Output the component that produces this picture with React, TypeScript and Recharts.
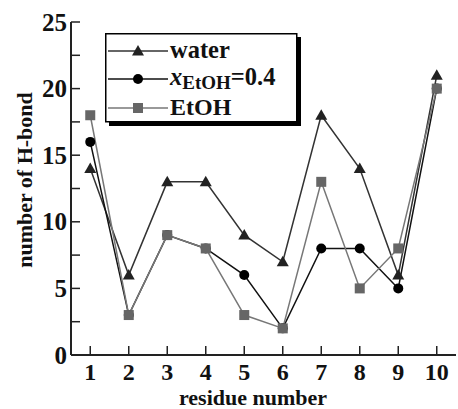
import React from 'react';
import { LineChart, Line, XAxis, YAxis, Legend } from 'recharts';

const residues = [1, 2, 3, 4, 5, 6, 7, 8, 9, 10];
const water = [14, 6, 13, 13, 9, 7, 18, 14, 6, 21];
const mixed = [16, 3, 9, 8, 6, 2, 8, 8, 5, 20];
const ethanol = [18, 3, 9, 8, 3, 2, 13, 5, 8, 20];
const yTicks = [0, 2.5, 5, 7.5, 10, 12.5, 15, 17.5, 20, 22.5, 25];

const data = residues.map((r, i) => ({
  residue: r,
  water: water[i],
  mixed: mixed[i],
  ethanol: ethanol[i],
}));

const FONT = "'Liberation Serif', 'DejaVu Serif', serif";
const AXIS = '#222';
const PLOT_LEFT = 71;
const PLOT_RIGHT = 456;
const PLOT_TOP = 22;
const PLOT_BOTTOM = 355;
const TICK = 9;

const txt = (size: number, extra: any = {}) => ({
  fontFamily: FONT,
  fontWeight: 'bold' as const,
  fontSize: size,
  fill: '#111',
  ...extra,
});

const Triangle = ({ cx, cy, fill }: any) => (
  <polygon points={`${cx},${cy - 6} ${cx - 6},${cy + 4.5} ${cx + 6},${cy + 4.5}`} fill={fill} />
);
const Dot = ({ cx, cy, fill }: any) => <circle cx={cx} cy={cy} r={5} fill={fill} />;
const Square = ({ cx, cy, fill }: any) => <rect x={cx - 5} y={cy - 5} width={10} height={10} fill={fill} />;

// ticks point into the plot; labels only every 5
const LeftTick = ({ y, payload }: any) => (
  <g>
    <line x1={PLOT_LEFT} x2={PLOT_LEFT + TICK} y1={y} y2={y} stroke={AXIS} strokeWidth={1.5} />
    {payload.value % 5 === 0 && (
      <text x={67} y={y + 8.5} textAnchor="end" style={txt(25)}>
        {payload.value}
      </text>
    )}
  </g>
);
const RightTick = ({ y }: any) => (
  <line x1={PLOT_RIGHT} x2={PLOT_RIGHT - TICK} y1={y} y2={y} stroke={AXIS} strokeWidth={1.5} />
);
const BottomTick = ({ x, payload }: any) => (
  <g>
    <line x1={x} x2={x} y1={PLOT_BOTTOM} y2={PLOT_BOTTOM - TICK} stroke={AXIS} strokeWidth={1.5} />
    <text x={x} y={379.5} textAnchor="middle" style={txt(24)}>
      {payload.value}
    </text>
  </g>
);
const TopTick = ({ x }: any) => (
  <line x1={x} x2={x} y1={PLOT_TOP} y2={PLOT_TOP + TICK} stroke={AXIS} strokeWidth={1.5} />
);

const LegendBox = () => {
  const rows = [
    { y: 18, stroke: '#333', mk: (cx: number, cy: number) => <Triangle cx={cx} cy={cy} fill="#222" /> },
    { y: 46, stroke: '#111', mk: (cx: number, cy: number) => <Dot cx={cx} cy={cy} fill="#000" /> },
    { y: 75, stroke: '#777', mk: (cx: number, cy: number) => <Square cx={cx} cy={cy} fill="#666" /> },
  ];
  return (
    <svg width={200} height={100} style={{ display: 'block' }}>
      <rect x={4} y={4} width={192} height={89} fill="#000" />
      <rect x={0.75} y={0.75} width={191} height={88} fill="#fff" stroke="#000" strokeWidth={1.5} />
      {rows.map((r, i) => (
        <g key={i}>
          <line x1={3} x2={63} y1={r.y} y2={r.y} stroke={r.stroke} strokeWidth={1.5} />
          {r.mk(33, r.y)}
        </g>
      ))}
      <text x={65} y={25} style={txt(24.5)}>water</text>
      <text x={65} y={52} style={txt(24.5)}>
        <tspan style={{ fontStyle: 'italic' }}>x</tspan>
        <tspan style={{ fontSize: 19 }} dy={4}>EtOH</tspan>
        <tspan dy={-4}>=0.4</tspan>
      </text>
      <text x={65} y={82} style={txt(24)}>EtOH</text>
    </svg>
  );
};

export default function App() {
  return (
    <div style={{ position: 'absolute', left: 0, top: 0, width: 458, height: 409, background: '#fff', fontFamily: FONT }}>
      <LineChart width={458} height={409} data={data} margin={{ top: 22, right: 2, bottom: 0, left: 0 }}>
        <XAxis
          dataKey="residue"
          type="number"
          domain={[0.5, 10.5]}
          ticks={residues}
          height={54}
          tickLine={false}
          tick={<BottomTick />}
          axisLine={{ stroke: AXIS, strokeWidth: 2 }}
          interval={0}
          label={() => (
            <text x={253} y={404.5} textAnchor="middle" style={txt(22)}>
              residue number
            </text>
          )}
        />
        <XAxis
          xAxisId="top"
          orientation="top"
          dataKey="residue"
          type="number"
          domain={[0.5, 10.5]}
          ticks={residues}
          height={0}
          tickLine={false}
          tick={<TopTick />}
          axisLine={{ stroke: AXIS, strokeWidth: 2 }}
          interval={0}
        />
        <YAxis
          type="number"
          domain={[0, 25]}
          ticks={yTicks}
          width={71}
          tickLine={false}
          tick={<LeftTick />}
          axisLine={{ stroke: AXIS, strokeWidth: 2 }}
          interval={0}
          label={() => (
            <text x={32} y={180} transform="rotate(-90 32 180)" textAnchor="middle" style={txt(22)}>
              number of H-bond
            </text>
          )}
        />
        <YAxis
          yAxisId="right"
          orientation="right"
          type="number"
          domain={[0, 25]}
          ticks={yTicks}
          width={0}
          tickLine={false}
          tick={<RightTick />}
          axisLine={{ stroke: AXIS, strokeWidth: 2 }}
          interval={0}
        />
        <Legend
          layout="horizontal"
          verticalAlign="middle"
          align="center"
          wrapperStyle={{ position: 'absolute', left: 105, top: 33, width: 200, height: 100 }}
          content={() => <LegendBox />}
        />
        <Line
          dataKey="water"
          stroke="#333"
          strokeWidth={1.5}
          isAnimationActive={false}
          dot={(p: any) => <Triangle key={`w${p.index}`} cx={p.cx} cy={p.cy} fill="#222" />}
        />
        <Line
          dataKey="mixed"
          stroke="#111"
          strokeWidth={1.5}
          isAnimationActive={false}
          dot={(p: any) => <Dot key={`m${p.index}`} cx={p.cx} cy={p.cy} fill="#000" />}
        />
        <Line
          dataKey="ethanol"
          stroke="#777"
          strokeWidth={1.5}
          isAnimationActive={false}
          dot={(p: any) => <Square key={`e${p.index}`} cx={p.cx} cy={p.cy} fill="#666" />}
        />
      </LineChart>
    </div>
  );
}
